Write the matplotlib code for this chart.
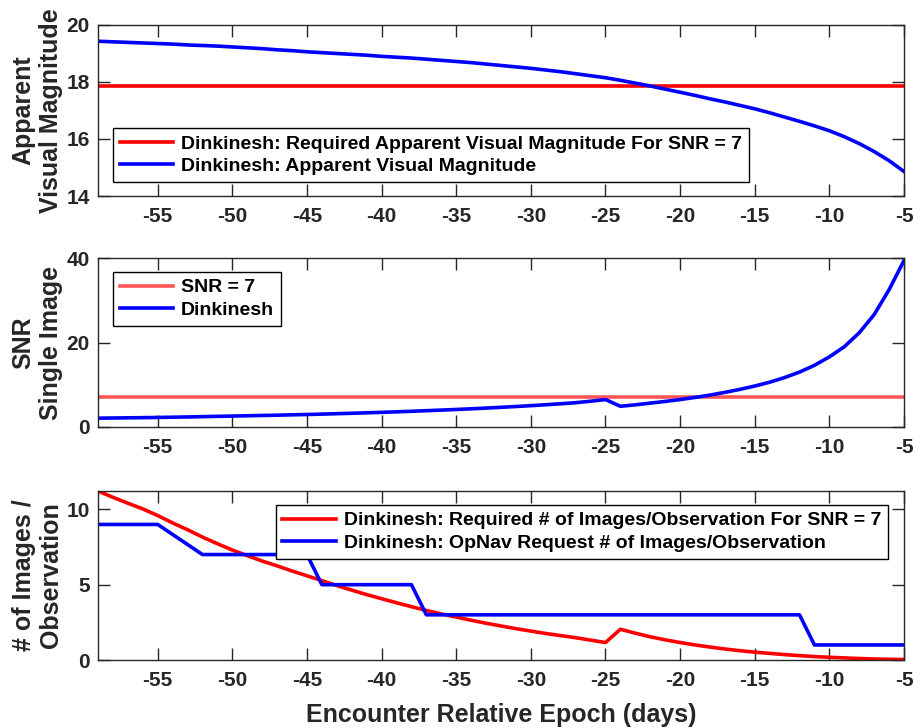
import matplotlib
matplotlib.use("Agg")
import matplotlib.pyplot as plt

plt.rcParams["font.family"] = ["Liberation Sans", "DejaVu Sans"]
plt.rcParams["font.weight"] = "bold"
plt.rcParams["axes.unicode_minus"] = False

# Days relative to the Dinkinesh encounter
days = list(range(-59, -4))

# Apparent visual magnitude of Dinkinesh per day
apparent_mag = [
    19.43, 19.41, 19.39, 19.37, 19.35, 19.33, 19.30, 19.28, 19.26, 19.23,
    19.20, 19.17, 19.13, 19.10, 19.06, 19.03, 19.00, 18.97, 18.94, 18.90,
    18.87, 18.84, 18.80, 18.76, 18.72, 18.68, 18.63, 18.58, 18.53, 18.48,
    18.42, 18.36, 18.29, 18.22, 18.15, 18.06, 17.96, 17.86, 17.75, 17.64,
    17.53, 17.41, 17.30, 17.18, 17.06, 16.92, 16.77, 16.62, 16.46, 16.29,
    16.08, 15.84, 15.56, 15.24, 14.86,
]
required_mag = 17.86

# Single-image SNR per day
snr_single = [
    2.09, 2.13, 2.17, 2.21, 2.26, 2.32, 2.38, 2.45, 2.52, 2.59,
    2.66, 2.73, 2.80, 2.88, 2.96, 3.05, 3.15, 3.25, 3.36, 3.47,
    3.59, 3.72, 3.86, 4.00, 4.15, 4.31, 4.48, 4.66, 4.85, 5.05,
    5.27, 5.50, 5.75, 6.10, 6.50, 4.90, 5.25, 5.65, 6.05, 6.50,
    7.00, 7.55, 8.20, 8.90, 9.70, 10.6, 11.7, 13.0, 14.6, 16.6,
    19.0, 22.3, 26.6, 32.5, 39.4,
]
snr_threshold = 7

# Images per observation needed to reach SNR = 7
images_required = [
    11.22, 10.80, 10.41, 10.03, 9.59, 9.10, 8.65, 8.16, 7.72, 7.30,
    6.93, 6.57, 6.25, 5.91, 5.59, 5.27, 4.94, 4.64, 4.34, 4.07,
    3.80, 3.54, 3.29, 3.06, 2.85, 2.64, 2.44, 2.26, 2.08, 1.92,
    1.76, 1.62, 1.48, 1.32, 1.16, 2.04, 1.78, 1.54, 1.34, 1.16,
    1.00, 0.86, 0.73, 0.62, 0.52, 0.44, 0.36, 0.29, 0.23, 0.18,
    0.14, 0.099, 0.069, 0.046, 0.032,
]

# OpNav requested images per observation (break points)
request_days = [-59, -55, -52, -45, -44, -38, -37, -12, -11, -5]
images_requested = [9, 9, 7, 7, 5, 5, 3, 3, 1, 1]

xticks = list(range(-55, 0, 5))

W, H = 914, 728
fig = plt.figure(figsize=(W / 100, H / 100), dpi=100)

left_px, right_px = 98, 904
def axes_rect(top_px, bottom_px):
    return [left_px / W, 1 - bottom_px / H, (right_px - left_px) / W, (bottom_px - top_px) / H]

ax1 = fig.add_axes(axes_rect(25, 196))
ax2 = fig.add_axes(axes_rect(258, 427))
ax3 = fig.add_axes(axes_rect(491, 660))

AX_COLOR = "#262626"
LW = 2.6

def style(ax):
    ax.set_xlim(days[0], days[-1])
    ax.set_xticks(xticks)
    ax.tick_params(direction="in", length=8.6, width=1.0, top=True, right=True,
                   labelsize=15, colors=AX_COLOR, pad=6)
    ax.tick_params(axis="x", pad=8)
    for s in ax.spines.values():
        s.set_color(AX_COLOR)
        s.set_linewidth(1.0)
    ax.yaxis.set_label_coords(-0.043, 0.5)

def legend(ax, **kw):
    leg = ax.legend(fontsize=14, handlelength=2.75, handletextpad=0.4,
                    labelspacing=0.25, borderpad=0.35, borderaxespad=0,
                    fancybox=False, framealpha=1, edgecolor="black", **kw)
    leg.get_frame().set_linewidth(1.0)
    for t in leg.get_texts():
        t.set_fontweight("bold")
    return leg

# Apparent visual magnitude
ax1.axhline(required_mag, color="red", lw=LW,
            label="Dinkinesh: Required Apparent Visual Magnitude For SNR = 7")
ax1.plot(days, apparent_mag, color="blue", lw=LW,
         label="Dinkinesh: Apparent Visual Magnitude")
ax1.set_ylim(14, 20)
ax1.set_yticks([14, 16, 18, 20])
style(ax1)
ax1.set_ylabel("Apparent\nVisual Magnitude", fontsize=18, fontweight="bold", color=AX_COLOR)
legend(ax1, loc="lower left", bbox_to_anchor=(0.0186, 0.082))

# Single image SNR
ax2.axhline(snr_threshold, color="#ff5555", lw=LW, label="SNR = 7")
ax2.plot(days, snr_single, color="blue", lw=LW, label="Dinkinesh")
ax2.set_ylim(0, 40)
ax2.set_yticks([0, 20, 40])
style(ax2)
ax2.set_ylabel("SNR\nSingle Image", fontsize=18, fontweight="bold", color=AX_COLOR)
legend(ax2, loc="upper left", bbox_to_anchor=(0.0186, 0.917))

# Images per observation
ax3.plot(days, images_required, color="red", lw=LW,
         label="Dinkinesh: Required # of Images/Observation For SNR = 7")
ax3.plot(request_days, images_requested, color="blue", lw=LW,
         label="Dinkinesh: OpNav Request # of Images/Observation")
ax3.set_ylim(0, max(images_required))
ax3.set_yticks([0, 5, 10])
style(ax3)
ax3.set_ylabel("# of Images /\nObservation", fontsize=18, fontweight="bold", color=AX_COLOR)
ax3.set_xlabel("Encounter Relative Epoch (days)", fontsize=18, fontweight="bold",
               color=AX_COLOR, labelpad=9)
legend(ax3, loc="upper right", bbox_to_anchor=(0.980, 0.917))

fig.savefig("out.png", dpi=100, facecolor="white")
